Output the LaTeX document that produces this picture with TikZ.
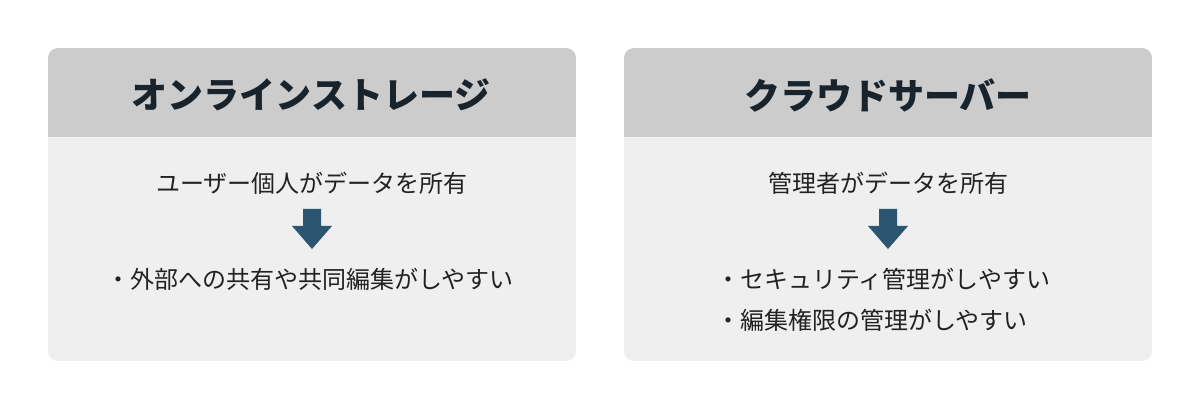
\documentclass[tikz,border=0pt]{standalone}
\usepackage{fontspec}
\newfontfamily\jpfont{Noto Sans CJK JP}
\usetikzlibrary{positioning}
\definecolor{headgray}{HTML}{CCCCCC}
\definecolor{bodygray}{HTML}{EFEFEF}
\definecolor{arrowblue}{HTML}{2B5570}
\definecolor{titleink}{HTML}{18232C}
\definecolor{inkgray}{HTML}{222222}

\begin{document}
\begin{tikzpicture}[x=1pt,y=1pt,
    title/.style={font=\jpfont\bfseries\fontsize{36}{42}\selectfont,text=titleink,inner sep=0pt},
    body/.style={font=\jpfont\fontsize{24}{28}\selectfont,text=inkgray,inner sep=0pt}]

    \useasboundingbox (0,0) rectangle (1200,410);

    % panels: light body, grey header on top
    \foreach \px in {48,624}
        {
        \begin{scope}
            \clip[rounded corners=10pt] (\px,49) rectangle (\px+528,362);
            \fill[bodygray] (\px,49) rectangle (\px+528,273);
            \fill[headgray] (\px,273) rectangle (\px+528,362);
        \end{scope}
        }

    % online storage
    \node[title] (stTitle) at (311,315) {オンラインストレージ};
    \node[body] (stOwner) at (312,227) {ユーザー個人がデータを所有};
    \node[body] (stMerit) at (310,131) {・外部への共有や共同編集がしやすい};

    % cloud server
    \node[title] (svTitle) at (888,315) {クラウドサーバー};
    \node[body] (svOwner) at (888,227) {管理者がデータを所有};
    \node[body,anchor=west] (svMerit1) at (716,131) {・セキュリティ管理がしやすい};
    \node[body] (svMerit2) [below=19pt of svMerit1.south west,anchor=north west] {・編集権限の管理がしやすい};

    % block arrows
    \foreach \cx in {312,888}
        {
        \fill[arrowblue] (\cx-9,201) -- (\cx+9,201) -- (\cx+9,184) -- (\cx+20,184)
            -- (\cx,161) -- (\cx-20,184) -- (\cx-9,184) -- cycle;
        }

\end{tikzpicture}
\end{document}
